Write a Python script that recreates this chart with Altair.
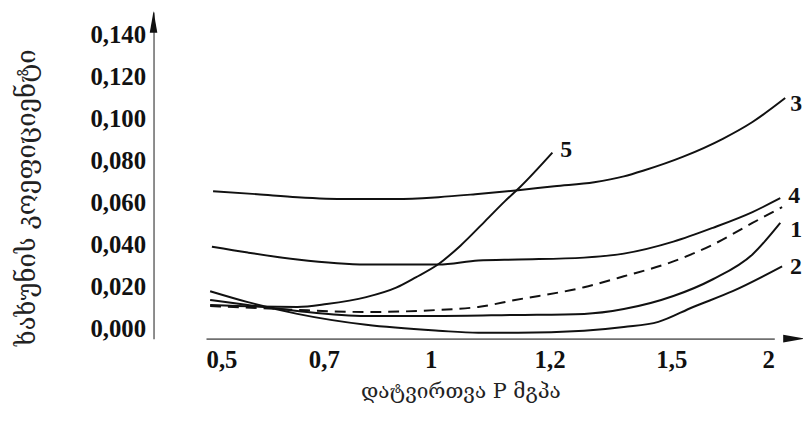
import altair as alt
import pandas as pd

# ---- data ----
P_TICKS = [0.5, 0.7, 1.0, 1.2, 1.5, 2.0]
MU_TICKS = [0.0, 0.02, 0.04, 0.06, 0.08, 0.10, 0.12, 0.14]

c3_p = [0.512, 0.587, 0.655, 0.764, 0.903, 1.013, 1.075, 1.147, 1.212, 1.310, 1.383, 1.432, 1.558, 1.750, 1.894, 2.053]
c3_mu = [0.0655, 0.0641, 0.0627, 0.0618, 0.0618, 0.0627, 0.0641, 0.0660, 0.0679, 0.0698, 0.0726, 0.0754, 0.0820, 0.0905, 0.0985, 0.1099]

c4_p = [0.510, 0.571, 0.655, 0.819, 1.013, 1.080, 1.147, 1.285, 1.383, 1.510, 1.702, 1.894, 2.029]
c4_mu = [0.0391, 0.0363, 0.0330, 0.0306, 0.0306, 0.0325, 0.0330, 0.0339, 0.0358, 0.0415, 0.0481, 0.0556, 0.0622]

c1_p = [0.507, 0.571, 0.655, 0.819, 1.013, 1.142, 1.285, 1.383, 1.510, 1.702, 1.894, 2.029]
c1_mu = [0.0137, 0.0113, 0.0085, 0.0061, 0.0061, 0.0066, 0.0071, 0.0094, 0.0156, 0.0236, 0.0354, 0.0504]

c2_p = [0.507, 0.571, 0.655, 0.819, 1.013, 1.080, 1.147, 1.285, 1.383, 1.468, 1.606, 1.798, 2.038]
c2_mu = [0.0179, 0.0127, 0.0071, 0.0019, -0.0009, -0.0019, -0.0019, -0.0009, 0.0009, 0.0033, 0.0104, 0.0179, 0.0297]

dash_p = [0.507, 0.587, 0.655, 0.819, 1.013, 1.080, 1.142, 1.285, 1.383, 1.510, 1.702, 1.894, 2.038]
dash_mu = [0.0108, 0.0099, 0.0090, 0.0080, 0.0090, 0.0104, 0.0137, 0.0198, 0.0250, 0.0321, 0.0401, 0.0504, 0.0580]

c5_p = [0.507, 0.587, 0.655, 0.708, 0.819, 0.903, 0.958, 1.012, 1.050, 1.092, 1.125, 1.150, 1.207]
c5_mu = [0.0113, 0.0106, 0.0104, 0.0118, 0.0151, 0.0196, 0.0245, 0.0306, 0.0396, 0.0514, 0.0608, 0.0674, 0.0839]

curves = [("3", c3_p, c3_mu), ("4", c4_p, c4_mu), ("1", c1_p, c1_mu),
          ("2", c2_p, c2_mu), ("dash", dash_p, dash_mu), ("5", c5_p, c5_mu)]

rows = []
for name, ps, ms in curves:
    for p, m in zip(ps, ms):
        rows.append({"curve": name, "P": p, "mu": m})
df = pd.DataFrame(rows)
df_end = pd.DataFrame([{"curve": n, "P": ps[-1], "mu": ms[-1]} for n, ps, ms in curves if n != "dash"])

X_TITLE = "დატვირთვა P მგპა"
Y_TITLE = "ხახუნის კოეფიციენტი"

W, H = 656, 330
GEO_FONT = "DejaVu Serif, DejaVu Sans"
NUM_FONT = "Liberation Serif"

x_enc = alt.X(
    "P:Q",
    scale=alt.Scale(domain=P_TICKS, range=[53, 172, 280, 400, 523, 627]),
    axis=alt.Axis(
        values=P_TICKS,
        labelExpr="replace(toString(datum.value), '.', ',')",
        ticks=False, grid=False,
        domainColor="#707070", domainWidth=1.6,
        labelFont=NUM_FONT, labelFontWeight="bold", labelFontSize=25, labelColor="#111",
        labelPadding=9,
        title=X_TITLE, titleFont=GEO_FONT, titleFontWeight="normal", titleFontSize=21,
        titleColor="#222", titleX=310, titleY=53, titleBaseline="middle", titleAlign="center",
    ),
)
y_enc = alt.Y(
    "mu:Q",
    scale=alt.Scale(domain=[-0.0047, 0.1509]),
    axis=alt.Axis(
        values=MU_TICKS,
        labelExpr="replace(format(datum.value, '.3f'), '.', ',')",
        ticks=False, grid=False,
        domainColor="#707070", domainWidth=1.6,
        labelFont=NUM_FONT, labelFontWeight="bold", labelFontSize=25, labelColor="#111",
        labelPadding=8,
        title=Y_TITLE, titleFont=GEO_FONT, titleFontWeight="normal", titleFontSize=26,
        titleColor="#222", titleX=-128, titleY=187, titleAngle=270,
        titleBaseline="middle", titleAlign="center",
    ),
)

base = alt.Chart(df).encode(x=x_enc, y=y_enc)

solid = base.transform_filter(alt.datum.curve != "dash").mark_line(
    color="#111", strokeWidth=2, interpolate="monotone"
).encode(detail="curve:N")

dashed = base.transform_filter(alt.datum.curve == "dash").mark_line(
    color="#111", strokeWidth=2, interpolate="monotone", strokeDash=[11, 7]
)

label_base = alt.Chart(df_end).encode(x=x_enc, y=y_enc, text="curve:N")
offsets = {"3": (5, 6), "4": (8, -2), "1": (10, 7), "2": (8, 1), "5": (8, -3)}
label_layers = []
for name, (dx, dy) in offsets.items():
    label_layers.append(
        label_base.transform_filter(alt.datum.curve == name).mark_text(
            align="left", baseline="middle", dx=dx, dy=dy,
            font=NUM_FONT, fontWeight="bold", fontSize=24, color="#111",
        )
    )

arrow_df = pd.DataFrame({"a": [0]})
y_arrow = alt.Chart(arrow_df).mark_point(
    shape="M0,-1L0.35,1L-0.35,1Z", filled=True, size=484, color="#111", opacity=1
).encode(x=alt.value(0), y=alt.value(10))
x_arrow = alt.Chart(arrow_df).mark_point(
    shape="M1,0L-1,-0.35L-1,0.35Z", filled=True, size=484, color="#111", opacity=1
).encode(x=alt.value(647), y=alt.value(H))

chart = alt.layer(solid, dashed, *label_layers, y_arrow, x_arrow).properties(
    width=W, height=H,
    autosize=alt.AutoSizeParams(type="none"),
    padding={"left": 147, "top": 2, "right": 0, "bottom": 65},
    background="white",
).configure_view(stroke=None)

chart.save("out.html", embed_options={"renderer": "svg", "actions": False})
